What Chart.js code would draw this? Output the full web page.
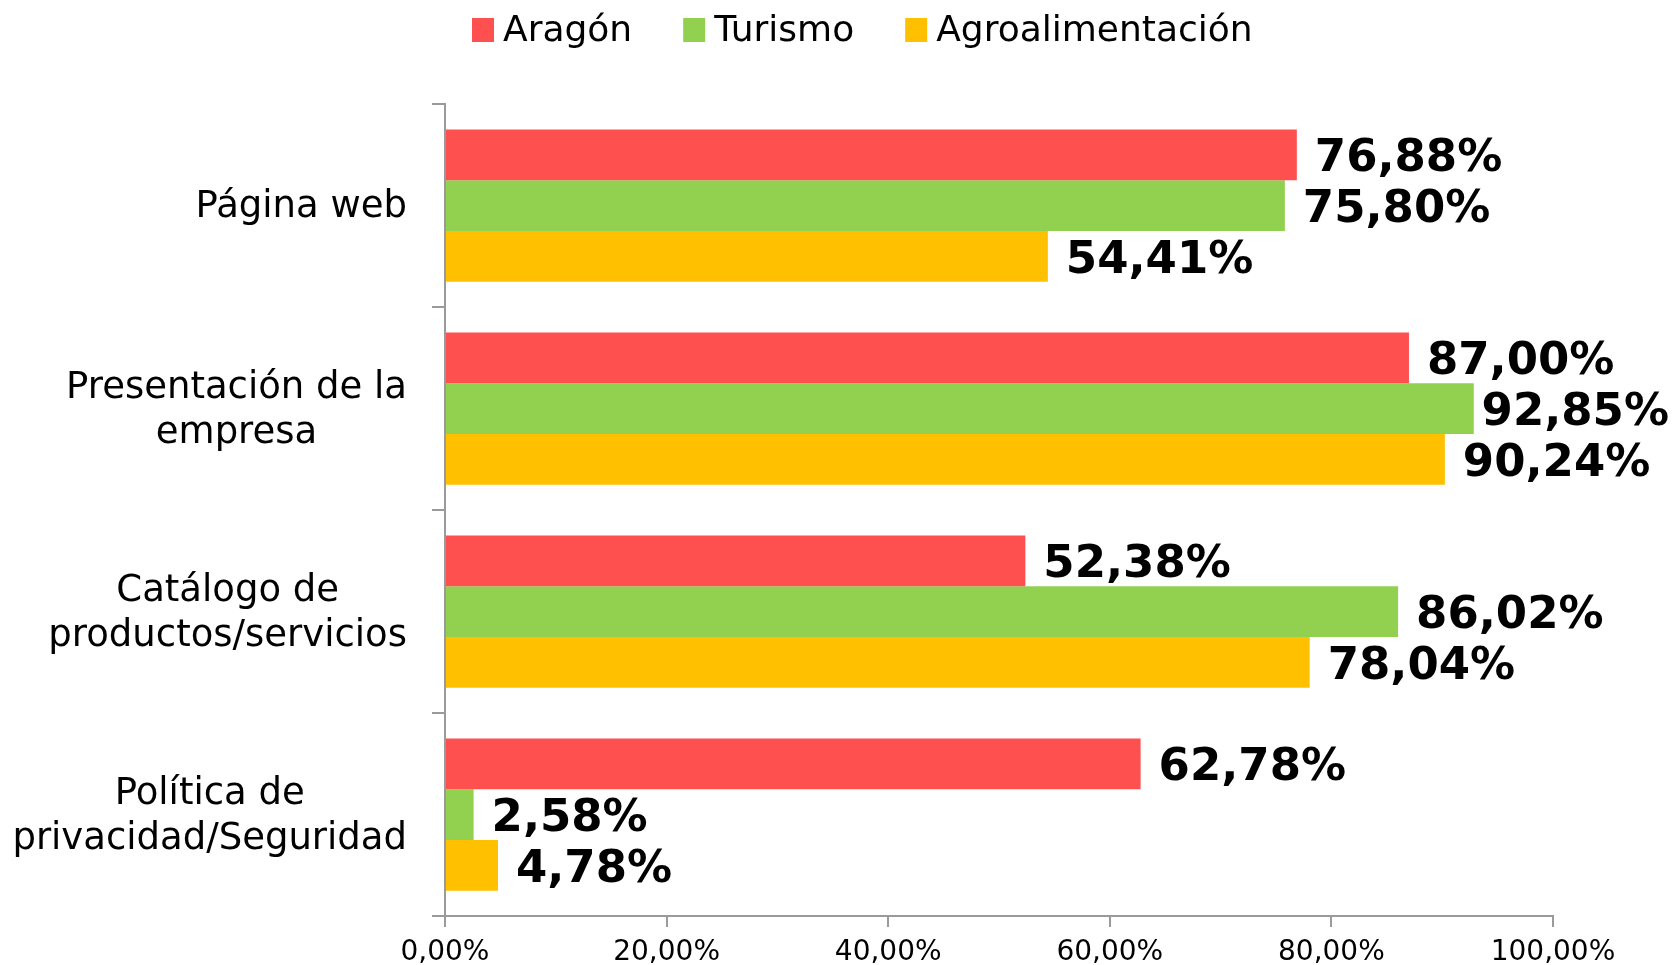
<!DOCTYPE html>
<html>
<head>
<meta charset="utf-8">
<script src="https://cdn.jsdelivr.net/npm/chart.js@4.4.1/dist/chart.umd.min.js"></script>
<style>
  html, body { margin: 0; padding: 0; background: #fff; }
  #wrap { width: 1675px; height: 965px; }
</style>
</head>
<body>
<div id="wrap"><canvas id="chart" width="1675" height="965"></canvas></div>
<script>
// ── Data ──
const categories = [
  ['Página web'],
  ['Presentación de la', 'empresa'],
  ['Catálogo de', 'productos/servicios'],
  ['Política de', 'privacidad/Seguridad']
];
const seriesNames = ['Aragón', 'Turismo', 'Agroalimentación'];
const aragon = [76.88, 87.00, 52.38, 62.78];
const turismo = [75.80, 92.85, 86.02, 2.58];
const agro = [54.41, 90.24, 78.04, 4.78];
const xTicks = [0, 20, 40, 60, 80, 100];

const colors = ['#FF5050', '#92D050', '#FFC000'];
const AXIS = '#9a9a9a';
const FONT = "'DejaVu Sans', Verdana, sans-serif";

const pct = v => v.toFixed(2).replace('.', ',') + '%';

/* ── Custom drawing: legend, category labels, value labels ── */
const extrasPlugin = {
  id: 'extras',
  afterDatasetsDraw(chart) {
    const ctx = chart.ctx;
    const yScale = chart.scales.y;
    ctx.save();

    // value labels at bar ends (pulled in if they would run off the canvas)
    ctx.font = 'bold 45px ' + FONT;
    ctx.fillStyle = '#000';
    ctx.textAlign = 'left';
    ctx.textBaseline = 'middle';
    chart.data.datasets.forEach((ds, i) => {
      chart.getDatasetMeta(i).data.forEach((bar, j) => {
        const txt = pct(ds.data[j]);
        const w = ctx.measureText(txt).width;
        const x = Math.min(bar.x + 18, chart.width - w - 6);
        ctx.fillText(txt, x, bar.y + 5);
      });
    });

    // category labels: block right-aligned, lines centred
    ctx.font = '37px ' + FONT;
    ctx.textAlign = 'center';
    const rightEdge = 407;
    const lineH = 45;
    categories.forEach((lines, i) => {
      const cy = yScale.getPixelForValue(i) + 2;
      const maxW = Math.max(...lines.map(l => ctx.measureText(l).width));
      const cx = rightEdge - maxW / 2;
      const top = cy - (lines.length - 1) * lineH / 2;
      lines.forEach((l, k) => ctx.fillText(l, cx, top + k * lineH));
    });

    // legend
    ctx.font = '36px ' + FONT;
    ctx.textAlign = 'left';
    ctx.textBaseline = 'alphabetic';
    let x = 472;
    chart.data.datasets.forEach(ds => {
      ctx.fillStyle = ds.backgroundColor;
      ctx.fillRect(x, 18, 22, 24);
      ctx.fillStyle = '#000';
      ctx.fillText(ds.label, x + 31, 41);
      x += 31 + ctx.measureText(ds.label).width + 51;
    });

    ctx.restore();
  }
};

new Chart(document.getElementById('chart'), {
  type: 'bar',
  data: {
    labels: categories,
    datasets: [
      { label: seriesNames[0], data: aragon, backgroundColor: colors[0] },
      { label: seriesNames[1], data: turismo, backgroundColor: colors[1] },
      { label: seriesNames[2], data: agro, backgroundColor: colors[2] }
    ]
  },
  options: {
    indexAxis: 'y',
    responsive: false,
    animation: false,
    datasets: {
      bar: { categoryPercentage: 0.75, barPercentage: 1.0, borderWidth: 0 }
    },
    layout: { padding: { top: 104, right: 122, left: 0, bottom: 0 } },
    plugins: {
      legend: { display: false },
      tooltip: { enabled: false }
    },
    scales: {
      x: {
        min: 0,
        max: 100,
        afterBuildTicks: scale => { scale.ticks = xTicks.map(v => ({ value: v })); },
        afterFit: scale => { scale.height = 49; },
        grid: { display: true, drawOnChartArea: false, drawTicks: true, tickLength: 11, color: AXIS, lineWidth: 2 },
        border: { display: true, color: AXIS, width: 2 },
        ticks: {
          padding: 9,
          color: '#000',
          font: { family: FONT, size: 28 },
          callback: v => pct(v)
        }
      },
      y: {
        afterFit: scale => { scale.width = 445; },
        grid: { display: true, drawOnChartArea: false, drawTicks: true, tickLength: 13, color: AXIS, lineWidth: 2, offset: true },
        border: { display: true, color: AXIS, width: 2 },
        ticks: { display: false }
      }
    }
  },
  plugins: [extrasPlugin]
});
</script>
</body>
</html>
